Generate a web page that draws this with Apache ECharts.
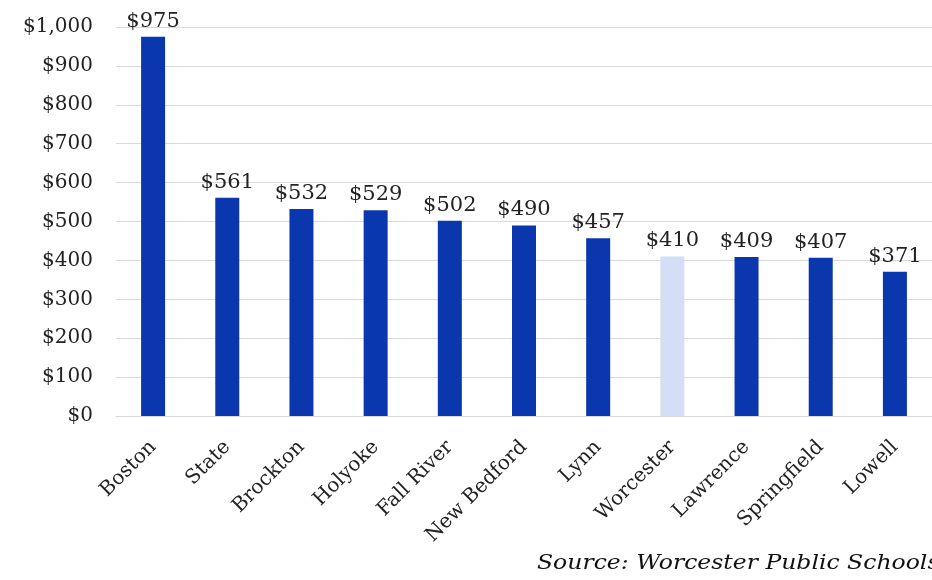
<!DOCTYPE html>
<html>
<head>
<meta charset="utf-8">
<script src="https://cdn.jsdelivr.net/npm/echarts@6/dist/echarts.min.js"></script>
<style>
  html, body { margin: 0; padding: 0; background: #ffffff; }
  #chart { width: 932px; height: 580px; }
</style>
</head>
<body>
<div id="chart"></div>
<script>
// Per-pupil spending by district (dollars)
const districts = ['Boston', 'State', 'Brockton', 'Holyoke', 'Fall River', 'New Bedford',
                   'Lynn', 'Worcester', 'Lawrence', 'Springfield', 'Lowell'];
const spending = [975, 561, 532, 529, 502, 490, 457, 410, 409, 407, 371];
const highlighted = 'Worcester';
const sourceNote = 'Source: Worcester Public Schools';

const SERIF = '"DejaVu Serif", "Liberation Serif", serif';
const BLUE = '#0a37ae';
const PALE = '#d5ddf7';

const chart = echarts.init(document.getElementById('chart'), null, { renderer: 'canvas' });

chart.setOption({
  backgroundColor: '#ffffff',
  animation: false,
  grid: { left: 116, right: 0, top: 27, bottom: 164 },
  xAxis: {
    type: 'category',
    data: districts,
    axisLine: { show: true, lineStyle: { color: '#d9d9d9' } },
    axisTick: { show: false },
    axisLabel: {
      rotate: 45,
      margin: 28,
      color: '#222222',
      fontFamily: SERIF,
      fontSize: 20
    }
  },
  yAxis: {
    type: 'value',
    min: 0,
    max: 1000,
    interval: 100,
    axisLine: { show: false },
    axisTick: { show: false },
    splitLine: { lineStyle: { color: '#d9d9d9', width: 1 } },
    axisLabel: {
      margin: 23,
      color: '#222222',
      fontFamily: SERIF,
      fontSize: 20,
      formatter: v => '$' + v.toLocaleString('en-US')
    }
  },
  series: [{
    type: 'bar',
    barWidth: 24,
    data: spending.map((v, i) => ({
      value: v,
      itemStyle: { color: districts[i] === highlighted ? PALE : BLUE }
    })),
    label: {
      show: true,
      position: 'top',
      distance: 5,
      color: '#222222',
      fontFamily: SERIF,
      fontSize: 21,
      formatter: p => '$' + p.value.toLocaleString('en-US')
    }
  }],
  graphic: [{
    type: 'text',
    left: 537,
    top: 553,
    scaleX: 1.12,
    style: {
      text: sourceNote,
      fill: '#111111',
      font: 'italic 21px ' + SERIF
    }
  }]
});
</script>
</body>
</html>
